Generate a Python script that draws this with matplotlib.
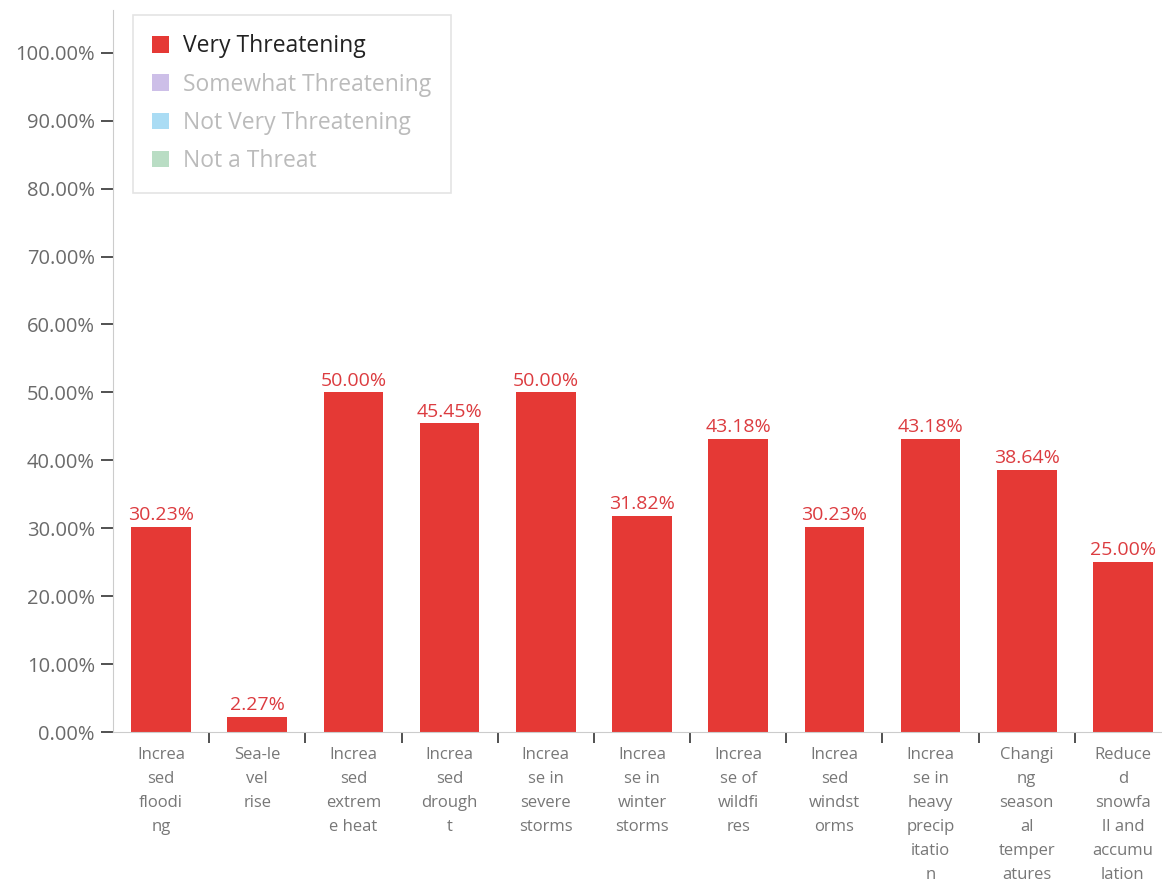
import matplotlib
matplotlib.use("Agg")
import matplotlib.pyplot as plt
from matplotlib.patches import Patch
from matplotlib.ticker import FuncFormatter, MultipleLocator, FixedLocator
import numpy as np

categories = [
    "Increased flooding",
    "Sea-level rise",
    "Increased extreme heat",
    "Increased drought",
    "Increase in severe storms",
    "Increase in winter storms",
    "Increase of wildfires",
    "Increased windstorms",
    "Increase in heavy precipitation",
    "Changing seasonal temperatures",
    "Reduced snowfall and accumulation",
]
very_threatening = [30.23, 2.27, 50.00, 45.45, 50.00, 31.82, 43.18, 30.23, 43.18, 38.64, 25.00]

series_names = ["Very Threatening", "Somewhat Threatening", "Not Very Threatening", "Not a Threat"]
series_colors = ["#e53935", "#cdbfe8", "#aadcf4", "#b9ddc4"]


def wrap_label(text, width=6):
    # cut every word into pieces of `width` chars, then join short neighbours
    pieces = []
    for word in text.split(" "):
        pieces += [word[i:i + width] for i in range(0, len(word), width)]
    lines = []
    for p in pieces:
        if lines and len(lines[-1]) + 1 + len(p) <= width:
            lines[-1] += " " + p
        else:
            lines.append(p)
    return "\n".join(lines)


plt.rcParams['font.family'] = ['Open Sans', 'DejaVu Sans']

fig = plt.figure(figsize=(11.62, 8.83), dpi=100)
ax = fig.add_axes([113 / 1162, 1 - 732 / 883, 1058 / 1162, 722 / 883])

x = np.arange(len(categories))
ax.bar(x, very_threatening, width=0.62, color=series_colors[0], zorder=2)

for xi, v in zip(x, very_threatening):
    ax.text(xi, v + 0.4, f"{v:.2f}%", ha="center", va="bottom",
            color="#dc3c40", fontsize=14)

ax.set_xlim(-0.5, len(categories) - 0.5)
ax.set_ylim(0, 106.3)

ax.yaxis.set_major_locator(MultipleLocator(10))
ax.yaxis.set_major_formatter(FuncFormatter(lambda v, p: f"{v:.2f}%"))
ax.tick_params(axis="y", labelsize=14.5, labelcolor="#6a6a6a", length=9, width=1.2,
               color="#333333", pad=4)

ax.set_xticks(x)
ax.set_xticklabels([wrap_label(c) for c in categories], fontsize=12, color="#777777",
                   linespacing=1.68, va="top")
ax.tick_params(axis="x", which="major", length=0, pad=10.5)
ax.xaxis.set_minor_locator(FixedLocator(np.arange(0.5, len(categories) - 0.5, 1)))
ax.tick_params(axis="x", which="minor", length=8, width=1.2, color="#333333")

for side in ["top", "right"]:
    ax.spines[side].set_visible(False)
ax.spines["left"].set_color("#cccccc")
ax.spines["bottom"].set_color("#cccccc")

handles = [Patch(facecolor=c, edgecolor="none") for c in series_colors]
leg = ax.legend(handles, series_names, loc="upper left",
                bbox_to_anchor=(20 / 1058, 1 - 5 / 722), fontsize=16.5,
                frameon=True, fancybox=False, edgecolor="#dddddd",
                borderpad=0.85, labelspacing=0.62, handlelength=0.74,
                handleheight=0.74, handletextpad=0.6, borderaxespad=0)
leg.get_frame().set_linewidth(1.2)
for i, t in enumerate(leg.get_texts()):
    t.set_color("#222222" if i == 0 else "#bbbbbb")

fig.savefig("out.png", dpi=100)
